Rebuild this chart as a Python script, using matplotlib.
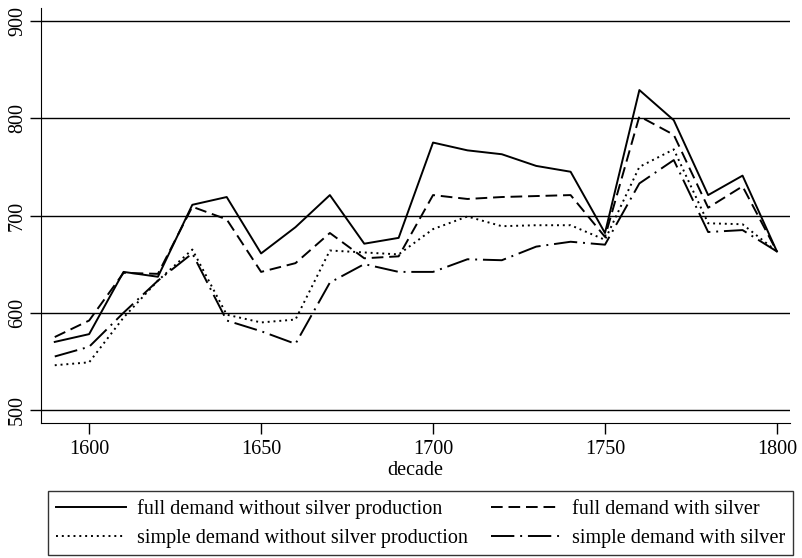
import matplotlib
matplotlib.use('Agg')
from matplotlib import pyplot as plt

decades = [1590, 1600, 1610, 1620, 1630, 1640, 1650, 1660, 1670, 1680, 1690,
           1700, 1710, 1720, 1730, 1740, 1750, 1760, 1770, 1780, 1790, 1800]

full_no_silver = [570, 578, 642, 637, 711, 719, 661, 688, 721, 671, 677,
                  775, 767, 763, 751, 745, 682, 829, 798, 721, 741, 663]
full_silver = [575, 592, 641, 640, 709, 696, 642, 651, 682, 656, 658,
               721, 717, 719, 720, 721, 678, 802, 783, 708, 730, 663]
simple_no_silver = [546, 549, 595, 633, 665, 598, 590, 593, 664, 662, 660,
                    686, 699, 689, 690, 690, 675, 750, 768, 692, 691, 663]
simple_silver = [555, 565, 600, 633, 661, 592, 581, 568, 631, 650, 642,
                 642, 655, 654, 668, 673, 670, 733, 757, 683, 685, 663]

plt.rcParams['font.family'] = ['Liberation Serif', 'DejaVu Serif']
plt.rcParams['font.size'] = 14.5

fig = plt.figure(figsize=(8.02, 5.58), dpi=100)
# 軸の位置 (ピクセルから換算)
ax = fig.add_axes([41 / 802, 1 - 423 / 558, 749 / 802, 415 / 558])

l1, = ax.plot(decades, full_no_silver, color='black', lw=1.4, ls='-',
              label='full demand without silver production')
l2, = ax.plot(decades, full_silver, color='black', lw=1.4, ls=(0, (6, 3)),
              label='full demand with silver')
l3, = ax.plot(decades, simple_no_silver, color='black', lw=1.4, ls=(0, (1, 2)),
              label='simple demand without silver production')
l4, = ax.plot(decades, simple_silver, color='black', lw=1.4, ls=(0, (12, 3, 1, 3)),
              label='simple demand with silver')

ax.set_xlim(1586, 1803.8)
ax.set_ylim(486.6, 913.4)
ax.set_xticks([1600, 1650, 1700, 1750, 1800])
ax.set_yticks([500, 600, 700, 800, 900])
ax.yaxis.grid(True, color='black', lw=1)
ax.set_axisbelow(True)
ax.tick_params(axis='both', direction='out', length=8, width=1, colors='black')
ax.tick_params(axis='x', pad=4)
ax.tick_params(axis='y', pad=2)
for lab in ax.get_yticklabels():
    lab.set_rotation(90)
    lab.set_va('center')
ax.spines['top'].set_visible(False)
ax.spines['right'].set_visible(False)
ax.set_xlabel('decade', labelpad=2)

# 行優先の並びにする
handles = [l1, l3, l2, l4]
leg = fig.legend(handles, [h.get_label() for h in handles],
                 loc='upper left', bbox_to_anchor=(48 / 802, 0, 745 / 802, 67 / 558),
                 mode='expand', ncol=2, frameon=True, fancybox=False,
                 edgecolor='black', handlelength=3.5, borderaxespad=0,
                 borderpad=0.38, columnspacing=0.1, handletextpad=0.55,
                 labelspacing=0.5)
leg.get_frame().set_linewidth(1)

fig.savefig('out.png', dpi=100)
